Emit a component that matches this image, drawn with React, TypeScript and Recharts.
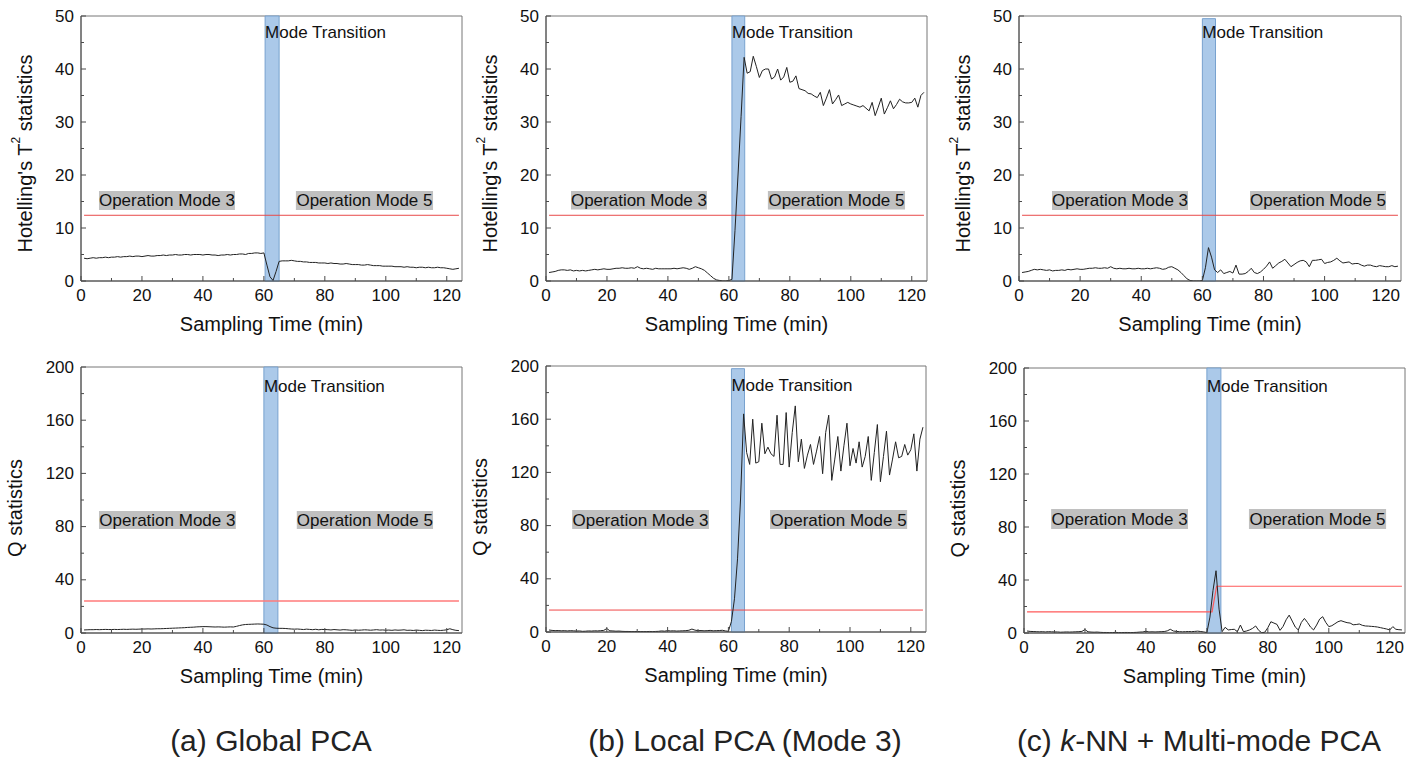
import React from "react";
import { LineChart, Line, XAxis, YAxis, ReferenceArea } from "recharts";

// sampling minutes 1..124
const MINUTES = Array.from({ length: 124 }, (_, i) => i + 1);

const X_TICKS = [0, 10, 20, 30, 40, 50, 60, 70, 80, 90, 100, 110, 120];
const T2_TICKS = [0, 5, 10, 15, 20, 25, 30, 35, 40, 45, 50];
const Q_TICKS = [0, 20, 40, 60, 80, 100, 120, 140, 160, 180, 200];

// Hotelling's T2, global PCA
const globalT2 = [
  4.3, 4.2, 4.3, 4.4, 4.3, 4.4, 4.4, 4.5, 4.4, 4.5,
  4.5, 4.6, 4.5, 4.6, 4.6, 4.7, 4.6, 4.7, 4.7, 4.6,
  4.7, 4.8, 4.7, 4.7, 4.8, 4.8, 4.9, 4.8, 4.9, 4.9,
  5.0, 4.9, 4.9, 5.0, 5.0, 4.9, 5.0, 5.0, 5.0, 4.9,
  5.0, 5.0, 4.9, 4.9, 4.8, 4.9, 4.9, 5.0, 4.9, 5.0,
  5.0, 5.1, 5.1, 5.0, 5.2, 5.2, 5.3, 5.3, 5.2, 5.3,
  3.0, 0.8, 0.1, 1.8, 3.7, 3.8, 3.8, 3.8, 3.9, 3.8,
  3.7, 3.7, 3.6, 3.6, 3.5, 3.5, 3.5, 3.4, 3.4, 3.4,
  3.3, 3.4, 3.3, 3.3, 3.2, 3.2, 3.3, 3.2, 3.1, 3.1,
  3.1, 3.0, 3.0, 3.1, 3.0, 2.9, 2.9, 2.9, 2.8, 2.8,
  2.8, 2.8, 2.7, 2.7, 2.7, 2.6, 2.7, 2.6, 2.6, 2.5,
  2.6, 2.6, 2.5, 2.6, 2.5, 2.5, 2.6, 2.5, 2.5, 2.4,
  2.3, 2.2, 2.3, 2.4,
];

// Hotelling's T2, local PCA (mode 3)
const localT2 = [
  1.6, 1.7, 1.8, 2.0, 2.1, 2.1, 2.0, 2.1, 1.9, 2.0,
  1.9, 2.0, 1.9, 2.0, 2.1, 2.2, 2.1, 2.2, 2.3, 2.2,
  2.2, 2.3, 2.4, 2.4, 2.5, 2.4, 2.4, 2.5, 2.4, 2.7,
  2.4, 2.3, 2.4, 2.3, 2.2, 2.4, 2.3, 2.3, 2.3, 2.3,
  2.3, 2.4, 2.3, 2.4, 2.5, 2.4, 2.2, 2.4, 2.7, 2.5,
  2.3, 2.0, 1.5, 1.0, 0.5, 0.2, 0.1, 0.0, 0.0, 0.1,
  0.3, 9.5, 20.0, 31.0, 42.2, 39.2, 39.5, 42.4, 40.5, 38.4,
  39.7, 40.0, 40.0, 38.1, 38.5, 40.0, 37.9, 38.5, 40.3, 37.5,
  37.7, 38.7, 36.3, 36.1, 35.9, 35.4, 35.3, 34.9, 34.6, 35.6,
  33.1, 34.5, 36.1, 33.4, 34.2, 35.1, 33.1, 33.4, 33.7, 33.4,
  33.2, 33.0, 32.8, 33.1, 32.6, 32.1, 33.7, 31.2, 32.8, 34.5,
  31.5, 32.7, 34.0, 32.5, 33.3, 34.3, 33.8, 33.6, 33.6, 33.7,
  34.5, 32.8, 35.0, 35.6,
];

// Hotelling's T2, k-NN + multi-mode PCA
const knnT2 = [
  1.6, 1.7, 1.8, 2.0, 2.2, 2.1, 2.2, 2.1, 2.0, 2.1,
  1.9, 2.0, 2.0, 2.1, 2.0, 2.2, 2.1, 2.2, 2.3, 2.2,
  2.2, 2.3, 2.4, 2.4, 2.5, 2.4, 2.4, 2.5, 2.4, 2.7,
  2.4, 2.3, 2.4, 2.3, 2.3, 2.4, 2.3, 2.3, 2.4, 2.3,
  2.3, 2.4, 2.3, 2.4, 2.5, 2.4, 2.2, 2.3, 2.6, 2.7,
  2.4, 2.1, 1.6, 1.0, 0.4, 0.1, 0.0, 0.0, 0.0, 0.1,
  2.5, 6.3, 4.5, 2.1, 1.6, 2.1, 1.4, 1.6, 1.8, 1.5,
  3.0, 1.3, 1.3, 1.4, 1.8, 2.4, 1.6, 1.4, 1.7, 2.2,
  2.8, 3.6, 2.4, 2.9, 3.4, 3.7, 4.1, 3.4, 2.7, 3.1,
  3.5, 3.8, 3.9, 3.6, 2.7, 3.9, 3.9, 4.0, 4.1, 3.3,
  3.5, 3.6, 3.9, 4.3, 3.8, 3.4, 3.5, 3.6, 3.2, 3.3,
  3.3, 3.0, 2.8, 3.0, 3.0, 2.8, 2.7, 2.9, 2.8, 2.7,
  2.7, 2.9, 2.7, 2.8,
];

// Q statistics, global PCA
const globalQ = [
  2.3, 2.4, 2.5, 2.5, 2.6, 2.5, 2.6, 2.7, 2.6, 2.6,
  2.7, 2.6, 2.7, 2.8, 2.7, 2.8, 2.9, 2.8, 2.9, 3.0,
  3.0, 3.1, 3.0, 3.1, 3.2, 3.2, 3.3, 3.4, 3.5, 3.6,
  3.7, 3.8, 3.9, 4.0, 4.2, 4.3, 4.4, 4.6, 4.7, 4.8,
  4.8, 4.7, 4.6, 4.5, 4.6, 4.5, 4.4, 4.5, 4.6, 4.5,
  5.0, 5.6, 6.1, 6.4, 6.5, 6.6, 6.7, 6.8, 6.7, 6.6,
  6.0, 4.8, 3.9, 3.6, 3.5, 3.5, 3.4, 3.2, 3.0, 2.9,
  3.0, 2.8, 2.6, 2.9, 2.7, 2.5, 2.8, 2.4, 2.7, 2.6,
  2.5, 2.3, 2.6, 2.4, 2.2, 2.5, 2.4, 2.2, 2.0, 2.3,
  2.1, 2.2, 2.4, 2.3, 2.1, 2.3, 2.5, 2.2, 2.3, 2.1,
  2.2, 2.0, 2.3, 2.1, 2.2, 2.4, 2.0, 2.1, 1.9, 2.2,
  2.0, 1.8, 2.1, 2.0, 1.9, 2.2, 2.0, 1.9, 2.1, 2.4,
  3.2, 2.5, 2.0, 1.8,
];

// Q statistics, local PCA (mode 3)
const localQ = [
  1.5, 1.2, 1.0, 1.1, 0.9, 1.0, 0.8, 1.0, 0.9, 0.7,
  0.8, 0.5, 0.6, 0.8, 0.7, 0.9, 0.8, 1.0, 1.2, 2.6,
  0.9, 0.8, 0.6, 0.7, 0.5, 0.4, 0.4, 0.3, 0.3, 0.4,
  0.3, 0.3, 0.3, 0.4, 0.3, 0.4, 0.5, 0.8, 0.6, 1.0,
  0.8, 0.9, 0.7, 0.8, 0.9, 1.0, 1.3, 2.2, 1.4, 1.0,
  1.1, 0.9, 1.0, 1.2, 0.9, 1.0, 1.1, 1.3, 0.8, 0.5,
  8, 25, 55, 100, 164, 135, 126, 160, 127, 128,
  157, 134, 139, 134, 132, 163, 126, 126, 165, 124,
  150, 170, 128, 145, 123, 133, 141, 126, 136, 147,
  119, 150, 163, 114, 130, 147, 121, 140, 157, 125,
  138, 127, 143, 124, 132, 147, 114, 135, 156, 113,
  132, 151, 118, 130, 143, 131, 132, 141, 133, 137,
  149, 121, 145, 154,
];

// Q statistics, k-NN + multi-mode PCA
const knnQ = [
  1.5, 1.2, 1.1, 1.0, 0.9, 1.0, 0.8, 1.0, 0.9, 0.8,
  0.8, 0.6, 0.7, 0.8, 0.7, 0.8, 0.9, 1.0, 1.2, 2.6,
  0.9, 0.7, 0.6, 0.7, 0.5, 0.4, 0.4, 0.3, 0.3, 0.5,
  0.3, 0.3, 0.4, 0.4, 0.3, 0.4, 0.5, 0.7, 0.8, 1.3,
  0.8, 0.9, 0.8, 0.9, 1.0, 1.1, 1.6, 2.8, 1.5, 1.2,
  1.0, 0.9, 1.0, 1.1, 1.0, 1.2, 1.4, 1.1, 0.8, 0.3,
  12, 32, 47, 18, 1.0, 4.3, 2.3, 2.6, 2.8, 1.0,
  6.0, 1.0, 1.5, 2.3, 3.5, 5.3, 2.0, 0.2, 0.6, 4.0,
  8.5, 7.5, 6.5, 2.0, 5.0, 10.0, 13.5, 9.0, 4.5, 2.3,
  8.0, 11.0, 8.0, 4.5, 2.3, 6.0, 10.5, 12.3, 8.0, 4.8,
  5.5, 7.0, 8.5, 9.3, 8.5, 7.8, 7.5, 6.2, 6.4, 6.8,
  5.8, 5.3, 5.2, 5.0, 4.8, 4.5, 4.0, 3.5, 3.0, 2.3,
  4.8, 2.8, 2.5, 2.3,
];

// control limits: [minute, value]
const limitT2 = [[1, 12.4], [124, 12.4]];
const limitGlobalQ = [[1, 24], [124, 24]];
const limitLocalQ = [[1, 16.5], [124, 16.5]];
const limitKnnQ = [[1, 16], [61.7, 16], [63.2, 35.3], [124, 35.3]];

const FONT = "'Liberation Sans', Arial, sans-serif";
const AXIS = "#4a4a4a";
const TEXT = "#111";

const toPoints = (vals: number[]) => vals.map((v, i) => ({ t: MINUTES[i], v }));
const toLimit = (pairs: number[][]) => pairs.map(([t, v]) => ({ t, v }));

const panels = [
  { left: 81, top: 16, w: 381, h: 265, q: false, series: globalT2, limit: limitT2, red: "#e84a4a", redW: 1,
    band: [60.4, 65.0, 50], txt: 16, m3: [5.9, 50.5], m5: [70.5, 115.5], boxY: [13.4, 17.0] },
  { left: 546, top: 16, w: 381, h: 265, q: false, series: localT2, limit: limitT2, red: "#e84a4a", redW: 1,
    band: [61.0, 65.2, 50], txt: 16, m3: [8.2, 52.8], m5: [72.8, 117.8], boxY: [13.5, 17.0] },
  { left: 1019, top: 16, w: 382, h: 265, q: false, series: knnT2, limit: limitT2, red: "#e84a4a", redW: 1,
    band: [60.0, 64.3, 49.5], txt: 14, m3: [10.8, 55.3], m5: [75.6, 120.1], boxY: [13.4, 17.0] },
  { left: 81, top: 367, w: 381, h: 266, q: true, series: globalQ, limit: limitGlobalQ, red: "#ff7a7a", redW: 1.5,
    band: [60.0, 64.6, 200], txt: 19, m3: [5.9, 50.8], m5: [70.8, 115.5], boxY: [78.2, 91.7] },
  { left: 546, top: 366, w: 380, h: 266, q: true, series: localQ, limit: limitLocalQ, red: "#f04848", redW: 1,
    band: [61.0, 65.3, 198], txt: 17, m3: [8.6, 53.6], m5: [73.7, 118.8], boxY: [77.5, 91.7] },
  { left: 1024, top: 368, w: 381, h: 265, q: true, series: knnQ, limit: limitKnnQ, red: "#ff5a5a", redW: 1.2,
    band: [60.0, 64.6, 200], txt: 18, m3: [8.9, 53.8], m5: [73.8, 118.8], boxY: [78.5, 93.6] },
];

const XTick = (props: any) => {
  const { x, y, payload } = props;
  const major = payload.value % 20 === 0;
  return (
    <g>
      <line x1={x} x2={x} y1={y} y2={y - (major ? 5 : 3)} stroke={AXIS} />
      {major && (
        <text x={x} y={y + 14} textAnchor="middle" dominantBaseline="central"
          fontSize={17} fontFamily={FONT} fill={TEXT}>
          {payload.value}
        </text>
      )}
    </g>
  );
};

const YTick = (props: any, step: number) => {
  const { x, y, payload } = props;
  const major = payload.value % step === 0;
  return (
    <g>
      <line x1={x} x2={x + (major ? 5 : 3)} y1={y} y2={y} stroke={AXIS} />
      {major && (
        <text x={x - 7} y={y} textAnchor="end" dominantBaseline="central"
          fontSize={17} fontFamily={FONT} fill={TEXT}>
          {payload.value}
        </text>
      )}
    </g>
  );
};

function Panel({ p }: { p: (typeof panels)[number] }) {
  const yMax = p.q ? 200 : 50;
  const W = 80 + p.w + 2;
  const H = 16 + p.h + 62;
  return (
    <div style={{ position: "absolute", left: p.left - 80, top: p.top - 16 }}>
      <LineChart width={W} height={H} data={toPoints(p.series)}
        margin={{ top: 16, right: 2, left: 0, bottom: 0 }}>
        <XAxis type="number" dataKey="t" domain={[0, 125]} ticks={X_TICKS} interval={0}
          tickSize={0} tickMargin={0} tick={(tp: any) => <XTick {...tp} />}
          axisLine={{ stroke: AXIS }} height={62} allowDataOverflow
          label={{
            content: (lp: any) => (
              <text x={lp.viewBox.x + lp.viewBox.width / 2} y={lp.viewBox.y + 43}
                textAnchor="middle" dominantBaseline="central" fontSize={20}
                fontFamily={FONT} fill={TEXT}>
                Sampling Time (min)
              </text>
            ),
          }}
        />
        <YAxis type="number" domain={[0, yMax]} ticks={p.q ? Q_TICKS : T2_TICKS} interval={0}
          tickSize={0} tickMargin={0} tick={(tp: any) => YTick(tp, p.q ? 40 : 10)}
          axisLine={{ stroke: AXIS }} width={80} allowDataOverflow
          label={{
            content: (lp: any) => {
              const cx = lp.viewBox.x + lp.viewBox.width - (p.q ? 66 : 56);
              const cy = lp.viewBox.y + lp.viewBox.height / 2 + (p.q ? 8 : 5);
              return (
                <text x={cx} y={cy} transform={`rotate(-90 ${cx} ${cy})`} textAnchor="middle"
                  dominantBaseline="central" fontSize={20} fontFamily={FONT} fill={TEXT}>
                  {p.q ? (
                    "Q statistics"
                  ) : (
                    <>
                      Hotelling's T<tspan fontSize={12} dy={-9}>2</tspan>
                      <tspan dy={9}> statistics</tspan>
                    </>
                  )}
                </text>
              );
            },
          }}
        />
        <ReferenceArea x1={0} x2={125} y1={0} y2={yMax} fill="none" stroke="#777" strokeWidth={1} />
        <ReferenceArea x1={p.band[0]} x2={p.band[1]} y1={0} y2={p.band[2]} fill="#abc9e9"
          fillOpacity={1} stroke="#78a2cf" strokeWidth={1}
          label={{
            content: (lp: any) => (
              <text x={lp.viewBox.x} y={lp.viewBox.y + p.txt} dominantBaseline="central"
                fontSize={17} fontFamily={FONT} fill={TEXT}>
                Mode Transition
              </text>
            ),
          }}
        />
        <ReferenceArea x1={p.m3[0]} x2={p.m3[1]} y1={p.boxY[0]} y2={p.boxY[1]} fill="#c0c0c0"
          fillOpacity={1} stroke="none"
          label={{ value: "Operation Mode 3", position: "center", fontSize: 17, fill: TEXT, fontFamily: FONT }}
        />
        <ReferenceArea x1={p.m5[0]} x2={p.m5[1]} y1={p.boxY[0]} y2={p.boxY[1]} fill="#c0c0c0"
          fillOpacity={1} stroke="none"
          label={{ value: "Operation Mode 5", position: "center", fontSize: 17, fill: TEXT, fontFamily: FONT }}
        />
        <Line data={toLimit(p.limit)} dataKey="v" type="linear" stroke={p.red} strokeWidth={p.redW}
          dot={false} activeDot={false} isAnimationActive={false} />
        <Line dataKey="v" type="linear" stroke="#222" strokeWidth={1} dot={false}
          activeDot={false} isAnimationActive={false} />
      </LineChart>
    </div>
  );
}

const captionStyle: React.CSSProperties = {
  position: "absolute",
  top: 723,
  width: 500,
  textAlign: "center",
  fontFamily: FONT,
  fontSize: 30,
  color: "#222",
  lineHeight: "36px",
};

export default function App() {
  return (
    <div style={{ position: "absolute", left: 0, top: 0, width: 1408, height: 760,
      overflow: "hidden", background: "#fff" }}>
      {panels.map((p, i) => (
        <Panel key={i} p={p} />
      ))}
      <div style={{ ...captionStyle, left: 271 - 250 }}>(a) Global PCA</div>
      <div style={{ ...captionStyle, left: 745 - 250 }}>(b) Local PCA (Mode 3)</div>
      <div style={{ ...captionStyle, left: 1199 - 250 }}>
        (c) <i>k</i>-NN + Multi-mode PCA
      </div>
    </div>
  );
}
